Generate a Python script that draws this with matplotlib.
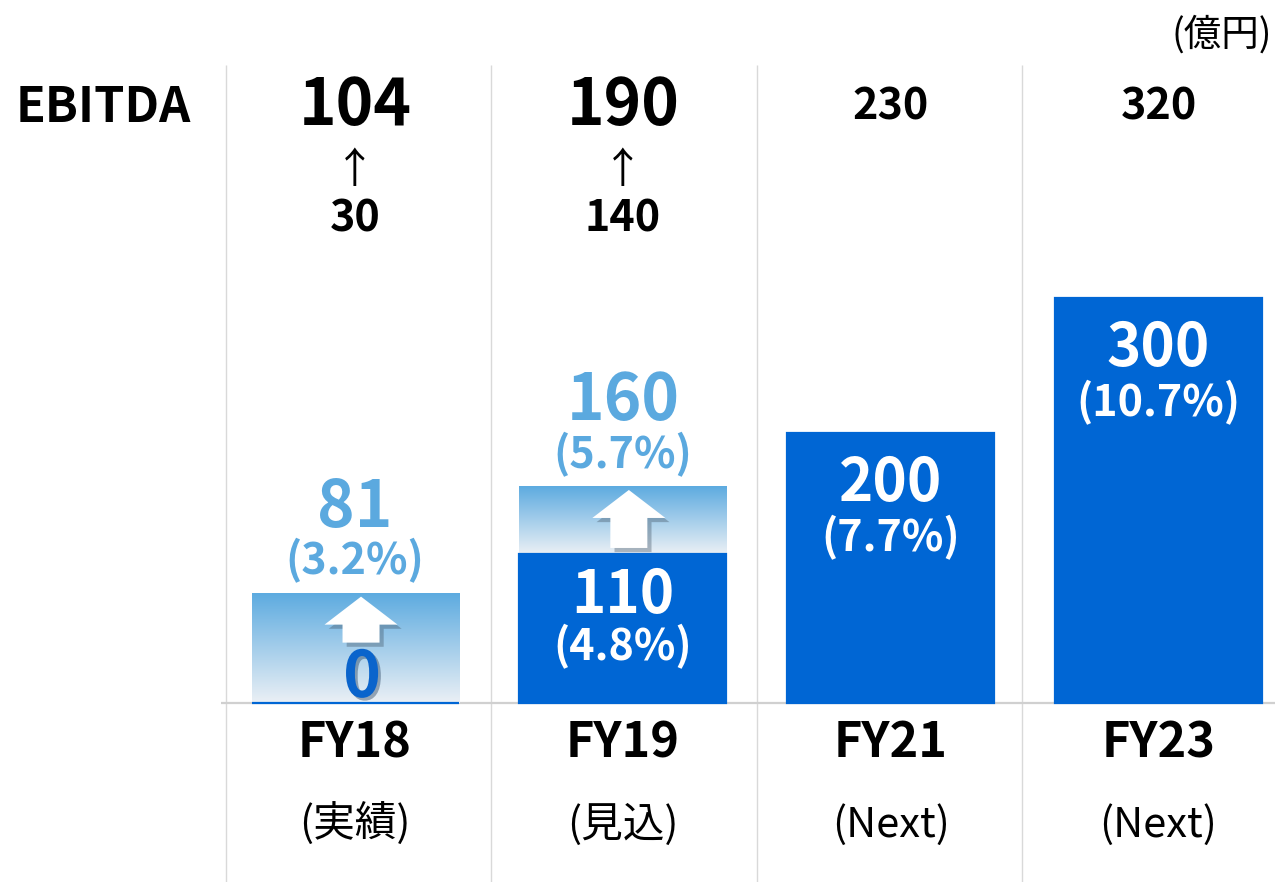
import matplotlib
matplotlib.use('Agg')
import matplotlib.pyplot as plt
import numpy as np
from matplotlib.patches import Polygon
import matplotlib.patheffects as pe
from matplotlib.colors import to_rgb
from matplotlib.transforms import blended_transform_factory

plt.rcParams['font.family'] = ['Noto Sans CJK JP', 'DejaVu Sans']

# ---- data ----
categories = ['FY18', 'FY19', 'FY21', 'FY23']
sublabels = ['(実績)', '(見込)', '(Next)', '(Next)']
base_values = [0, 110, 200, 300]
base_margin = ['', '(4.8%)', '(7.7%)', '(10.7%)']
target_values = [81, 160, None, None]
target_margin = ['(3.2%)', '(5.7%)', None, None]
ebitda_top = ['104', '190', '230', '320']
ebitda_from = ['30', '140', None, None]
unit_label = '(億円)'
row_label = 'EBITDA'

# ---- style ----
BLUE = '#0066D4'
LIGHT = '#5BA9DF'
GRAD_TOP = '#5DABE0'
GRAD_BOT = '#EBF0F5'
GRID = '#D9D9D9'

W, H = 1275, 882
fig = plt.figure(figsize=(W / 100, H / 100), dpi=100)
ax = fig.add_axes([0, 0, 1, 1])
ax.set_axis_off()

XLIM = (-1.3256, 3.435)
YLIM = (-132.6, 520.7)
px_x = W / (XLIM[1] - XLIM[0])   # pixels per x unit
px_y = H / (YLIM[1] - YLIM[0])   # pixels per value unit

x = np.arange(len(categories))
width = 0.773

def fy(py):
    return 1 - py / H

# separators & baseline
top_val = YLIM[1] - 65 / px_y
sep_x = x * 0.9907 - 0.4817
ax.vlines(sep_x, YLIM[0], top_val, color=GRID, lw=1.0, zorder=0)
ax.hlines(0, -0.5, XLIM[1], color='#D0D0D0', lw=1.6, zorder=1)

# solid bars
ax.bar(x, base_values, width, color=BLUE, edgecolor=BLUE, linewidth=1.6, zorder=3)

# gradient bars
c_top = np.array(to_rgb(GRAD_TOP))
c_bot = np.array(to_rgb(GRAD_BOT))
t = np.linspace(0, 1, 256)[:, None]
grad = (c_bot[None, :] * (1 - t) + c_top[None, :] * t)[:, None, :]
arrow_len_px = [46, 58]
for i, tv in enumerate(target_values):
    if tv is None:
        continue
    b = base_values[i]
    ax.imshow(grad, extent=[x[i] - width / 2, x[i] + width / 2, b, tv],
              origin='lower', aspect='auto', zorder=2, interpolation='bilinear')
    # white up arrow with shadow
    xc = x[i] + 6 / px_x
    tip = tv - 3 / px_y
    hb = tip - 28 / px_y
    sb = tip - arrow_len_px[i] / px_y
    hw = 36.5 / px_x
    sw = 18.5 / px_x
    poly = Polygon([(xc, tip), (xc + hw, hb), (xc + sw, hb), (xc + sw, sb),
                    (xc - sw, sb), (xc - sw, hb), (xc - hw, hb)],
                   closed=True, facecolor='white', edgecolor='none', zorder=4)
    poly.set_path_effects([pe.SimplePatchShadow(offset=(3, -3), shadow_rgbFace='#3a4a5a', alpha=0.35),
                           pe.Normal()])
    ax.add_patch(poly)
    # labels above gradient
    ax.annotate(target_margin[i], (x[i], tv), xytext=(0, 19), textcoords='offset pixels',
                ha='center', va='baseline', fontsize=31, fontweight='bold', color=LIGHT, zorder=5)
    ax.annotate(str(tv), (x[i], tv), xytext=(0, 67), textcoords='offset pixels',
                ha='center', va='baseline', fontsize=46, fontweight='bold', color=LIGHT, zorder=5)

# labels inside solid bars
for i, bv in enumerate(base_values):
    if bv == 0:
        ax.annotate(str(bv), (x[i] + 7 / px_x, bv), xytext=(0, 6), textcoords='offset pixels',
                    ha='center', va='baseline', fontsize=46, fontweight='bold', color='#0A64CC', zorder=5,
                    path_effects=[pe.SimplePatchShadow(offset=(2, -2), alpha=0.35), pe.Normal()])
        continue
    off = 59 if target_values[i] is not None else 68
    off2 = 106 if target_values[i] is not None else 118
    ax.annotate(str(bv), (x[i], bv), xytext=(0, -off), textcoords='offset pixels',
                ha='center', va='baseline', fontsize=42, fontweight='bold', color='white', zorder=5)
    ax.annotate(base_margin[i], (x[i], bv), xytext=(0, -off2), textcoords='offset pixels',
                ha='center', va='baseline', fontsize=31, fontweight='bold', color='white', zorder=5)

ax.set_xlim(*XLIM)
ax.set_ylim(*YLIM)

# header rows
tr = blended_transform_factory(ax.transData, fig.transFigure)
for i in range(len(categories)):
    big = ebitda_from[i] is not None
    ax.text(x[i], fy(125 if big else 120), ebitda_top[i], transform=tr, ha='center', va='baseline',
            fontsize=46 if big else 31, fontweight='bold', color='black')
    if big:
        ax.text(x[i], fy(171), '↑', transform=tr, ha='center', va='center',
                fontsize=30, color='black')
        ax.text(x[i], fy(232), ebitda_from[i], transform=tr, ha='center', va='baseline',
                fontsize=31, fontweight='bold', color='black')
    ax.text(x[i], fy(757), categories[i], transform=tr, ha='center', va='baseline',
            fontsize=35, fontweight='bold', color='black')
    ax.text(x[i], fy(837), sublabels[i], transform=tr, ha='center', va='baseline',
            fontsize=30, color='black')

fig.text(16 / W, fy(122), row_label, ha='left', va='baseline', fontsize=35, fontweight='bold')
fig.text(1272 / W, fy(46), unit_label, ha='right', va='baseline', fontsize=27)

fig.savefig('out.png', dpi=100)
